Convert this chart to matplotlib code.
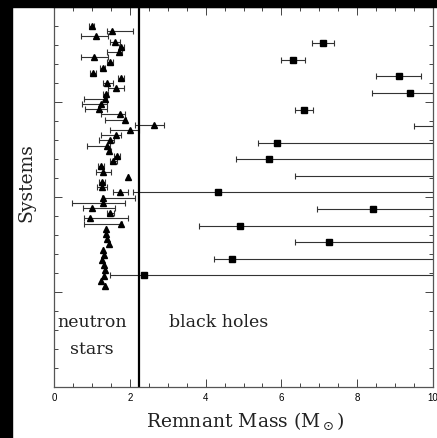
import matplotlib
matplotlib.use("Agg")
import matplotlib.pyplot as plt
from matplotlib.patches import Rectangle
from matplotlib.ticker import MultipleLocator
import numpy as np

# neutron stars: best mass with lower / upper limit (Msun), top row first
ns_mass = [0.99, 1.54, 1.12, 1.61, 1.78, 1.72, 1.06, 1.48, 1.28, 1.03,
           1.76, 1.40, 1.64, 1.37, 1.34, 1.25, 1.20, 1.73, 1.88, 2.63,
           2.00, 1.64, 1.47, 1.40, 1.46, 1.67, 1.56, 1.23, 1.30, 1.96,
           1.26, 1.26, 1.75, 1.28, 1.30, 0.99, 1.48, 0.95, 1.76, 1.36,
           1.38, 1.40, 1.45, 1.30, 1.32, 1.27, 1.31, 1.34, 1.32, 1.25,
           1.34]
ns_lo = [0.92, 1.41, 0.70, 1.48, 1.72, 1.39, 0.71, 1.41, 1.22, 0.95,
         1.68, 1.30, 1.43, 1.30, 0.79, 0.73, 0.81, 1.24, 1.34, 2.14,
         1.49, 1.23, 1.19, 0.88, 1.42, 1.59, 1.47, 1.15, 1.12, 1.96,
         1.18, 1.14, 1.56, 1.26, 0.47, 0.77, 1.40, 0.80, 0.78, 1.36,
         1.38, 1.40, 1.45, 1.30, 1.32, 1.27, 1.31, 1.34, 1.32, 1.25,
         1.34]
ns_hi = [1.06, 2.09, 1.43, 1.74, 1.84, 1.79, 1.43, 1.56, 1.34, 1.12,
         1.84, 1.56, 1.86, 1.43, 1.40, 1.39, 1.39, 1.87, 1.91, 2.89,
         2.23, 1.77, 1.58, 1.49, 1.51, 1.74, 1.65, 1.32, 1.50, 1.96,
         1.35, 1.39, 1.96, 2.15, 1.87, 1.61, 1.58, 1.96, 1.80, 1.36,
         1.38, 1.40, 1.45, 1.30, 1.32, 1.27, 1.31, 1.34, 1.32, 1.25,
         1.34]

# black holes: several best values lie beyond 10 Msun
bh_mass = [7.10, 6.30, 9.10, 9.39, 6.60, 11.0, 5.88, 5.68, 11.0, 4.32,
           8.42, 4.90, 7.25, 4.70, 2.38]
bh_lo = [6.81, 5.99, 8.49, 8.40, 6.36, 9.50, 5.38, 4.81, 6.37, 2.09,
         6.94, 3.82, 6.37, 4.22, 1.47]
bh_hi = [7.39, 6.61, 9.69, 12.0, 6.84, 12.0, 12.0, 12.0, 12.0, 12.0,
         12.0, 12.0, 12.0, 12.0, 12.0]

ns_bh_boundary = 2.245

ns_y = np.linspace(19.0, 5.32, len(ns_mass))
bh_y = np.linspace(18.09, 5.88, len(bh_mass))

fig = plt.figure(figsize=(4.37, 4.38), dpi=100)
ax = fig.add_axes([54 / 437, 51 / 438, 379 / 437, 380 / 438])

ns_mass = np.array(ns_mass)
bh_mass = np.array(bh_mass)
ns_err = [ns_mass - np.array(ns_lo), np.array(ns_hi) - ns_mass]
bh_err = [bh_mass - np.array(bh_lo), np.array(bh_hi) - bh_mass]

ax.errorbar(ns_mass, ns_y, xerr=ns_err, fmt="^", color="black", ms=4.2,
            ecolor="#333333", elinewidth=0.8, capsize=2.2, capthick=0.8)
ax.errorbar(bh_mass, bh_y, xerr=bh_err, fmt="s", color="black", ms=4.2,
            ecolor="#333333", elinewidth=0.8, capsize=2.5, capthick=0.8)

ax.axvline(ns_bh_boundary, color="black", lw=1.6)

label_font = dict(family="DejaVu Serif", fontsize=12.5, color="#222222")
ax.text(1.0, 3.37, "neutron", ha="center", va="center", **label_font)
ax.text(1.0, 1.95, "stars", ha="center", va="center", **label_font)
ax.text(4.34, 3.37, "black holes", ha="center", va="center", **label_font)

ax.set_xlim(0, 10)
ax.set_ylim(0, 20)
ax.xaxis.set_major_locator(MultipleLocator(2))
ax.xaxis.set_minor_locator(MultipleLocator(0.5))
ax.yaxis.set_major_locator(MultipleLocator(5))
ax.yaxis.set_minor_locator(MultipleLocator(1))
ax.tick_params(which="both", direction="in", top=True, right=True,
               width=0.7, color="#444444", labelleft=False)
ax.tick_params(which="major", length=5.5, labelsize=7, pad=4)
ax.tick_params(which="minor", length=3.2)
for lab in ax.get_xticklabels():
    lab.set_family("Liberation Sans")
for sp in ax.spines.values():
    sp.set_linewidth(0.9)
    sp.set_color("#555555")

ax.set_xlabel(r"Remnant Mass (M$_\odot$)", family="DejaVu Serif", fontsize=13.5, color="#222222")
ax.set_ylabel("Systems", family="DejaVu Serif", fontsize=13.5, color="#222222")
ax.xaxis.set_label_coords(0.504, -0.061)
ax.yaxis.set_label_coords(-0.050, 0.537)

# dark frame strips on the left and top edges
fig.patches.append(Rectangle((0, 0), 12 / 437, 1, transform=fig.transFigure,
                             color="black", zorder=10))
fig.patches.append(Rectangle((0, 1 - 7 / 438), 1, 7 / 438, transform=fig.transFigure,
                             color="black", zorder=10))

fig.savefig("out.png", dpi=100)
